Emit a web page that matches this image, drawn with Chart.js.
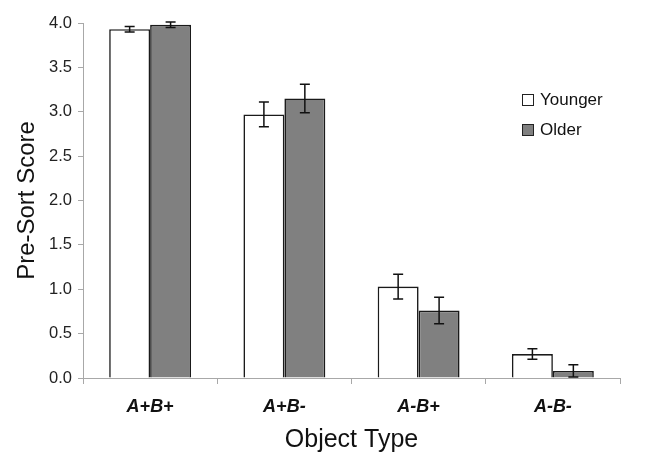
<!DOCTYPE html>
<html>
<head>
<meta charset="utf-8">
<script src="https://cdn.jsdelivr.net/npm/chart.js@4"></script>
<style>
  html, body { margin: 0; padding: 0; background: #fff; }
  #wrap { position: relative; width: 649px; height: 455px; }
  #legend { position: absolute; left: 522px; top: 85px; font-family: "Liberation Sans", Arial, sans-serif; font-size: 17px; color: #111; }
  #legend .item { display: flex; align-items: center; height: 30px; }
  #legend .box { width: 10px; height: 10px; border: 1.5px solid #222; margin-right: 6px; }
</style>
</head>
<body>
<div id="wrap">
  <canvas id="chart" width="649" height="455"></canvas>
  <div id="legend"></div>
</div>
<script>
const categories = ['A+B+', 'A+B-', 'A-B+', 'A-B-'];
const younger = [3.93, 2.97, 1.03, 0.27];
const older = [3.98, 3.15, 0.76, 0.08];
const youngerErr = [0.03, 0.14, 0.14, 0.06];
const olderErr = [0.03, 0.16, 0.15, 0.07];
const yTicks = [0, 0.5, 1.0, 1.5, 2.0, 2.5, 3.0, 3.5, 4.0];

const errors = [youngerErr, olderErr];

// draw error bars on top of the bars, using the y scale
const errorBars = {
  id: 'errorBars',
  afterDatasetsDraw(chart) {
    const ctx = chart.ctx;
    const y = chart.scales.y;
    ctx.save();
    ctx.strokeStyle = '#111';
    ctx.lineWidth = 1.5;
    chart.data.datasets.forEach((ds, i) => {
      const meta = chart.getDatasetMeta(i);
      meta.data.forEach((bar, j) => {
        const v = ds.data[j];
        const e = errors[i][j];
        const top = y.getPixelForValue(v + e);
        const bot = y.getPixelForValue(Math.max(0, v - e));
        ctx.beginPath();
        ctx.moveTo(bar.x, top); ctx.lineTo(bar.x, bot);
        ctx.moveTo(bar.x - 5, top); ctx.lineTo(bar.x + 5, top);
        ctx.moveTo(bar.x - 5, bot); ctx.lineTo(bar.x + 5, bot);
        ctx.stroke();
      });
    });
    ctx.restore();
  }
};

const font = 'Liberation Sans, Arial, sans-serif';

const chart = new Chart(document.getElementById('chart'), {
  type: 'bar',
  data: {
    labels: categories,
    datasets: [
      { label: 'Younger', data: younger, backgroundColor: '#ffffff', borderColor: '#1a1a1a', borderWidth: 1.6 },
      { label: 'Older', data: older, backgroundColor: '#808080', borderColor: '#1a1a1a', borderWidth: 1.6 }
    ]
  },
  options: {
    responsive: false,
    animation: false,
    events: [],
    categoryPercentage: 0.61,
    barPercentage: 1.0,
    layout: { padding: { left: 0, right: 29, top: 23, bottom: 0 } },
    plugins: {
      legend: { display: false },
      tooltip: { enabled: false }
    },
    scales: {
      x: {
        grid: { offset: true, drawOnChartArea: false, drawTicks: true, tickLength: 6, color: '#a8a8a8' },
        border: { color: '#a8a8a8', width: 1 },
        ticks: { color: '#111', padding: 12, font: { family: font, size: 18, weight: 'bold', style: 'italic' } },
        title: { display: true, text: 'Object Type', color: '#111', padding: 0, font: { family: font, size: 25 } },
        afterFit(scale) { scale.height = 77; }
      },
      y: {
        min: 0,
        max: 4,
        afterBuildTicks(scale) { scale.ticks = yTicks.map(v => ({ value: v })); },
        grid: { drawOnChartArea: false, drawTicks: true, tickLength: 5, color: '#a8a8a8' },
        border: { color: '#a8a8a8', width: 1 },
        ticks: { color: '#222', padding: 6, font: { family: font, size: 16.5 }, callback: v => v.toFixed(1) },
        title: { display: true, text: 'Pre-Sort Score', color: '#111', padding: { top: 13, bottom: 0 }, font: { family: font, size: 24 } },
        afterFit(scale) { scale.width = 83; }
      }
    }
  },
  plugins: [errorBars]
});

// legend
const legend = document.getElementById('legend');
chart.data.datasets.forEach(ds => {
  const item = document.createElement('div');
  item.className = 'item';
  const box = document.createElement('span');
  box.className = 'box';
  box.style.background = ds.backgroundColor;
  item.appendChild(box);
  item.appendChild(document.createTextNode(ds.label));
  legend.appendChild(item);
});
</script>
</body>
</html>
